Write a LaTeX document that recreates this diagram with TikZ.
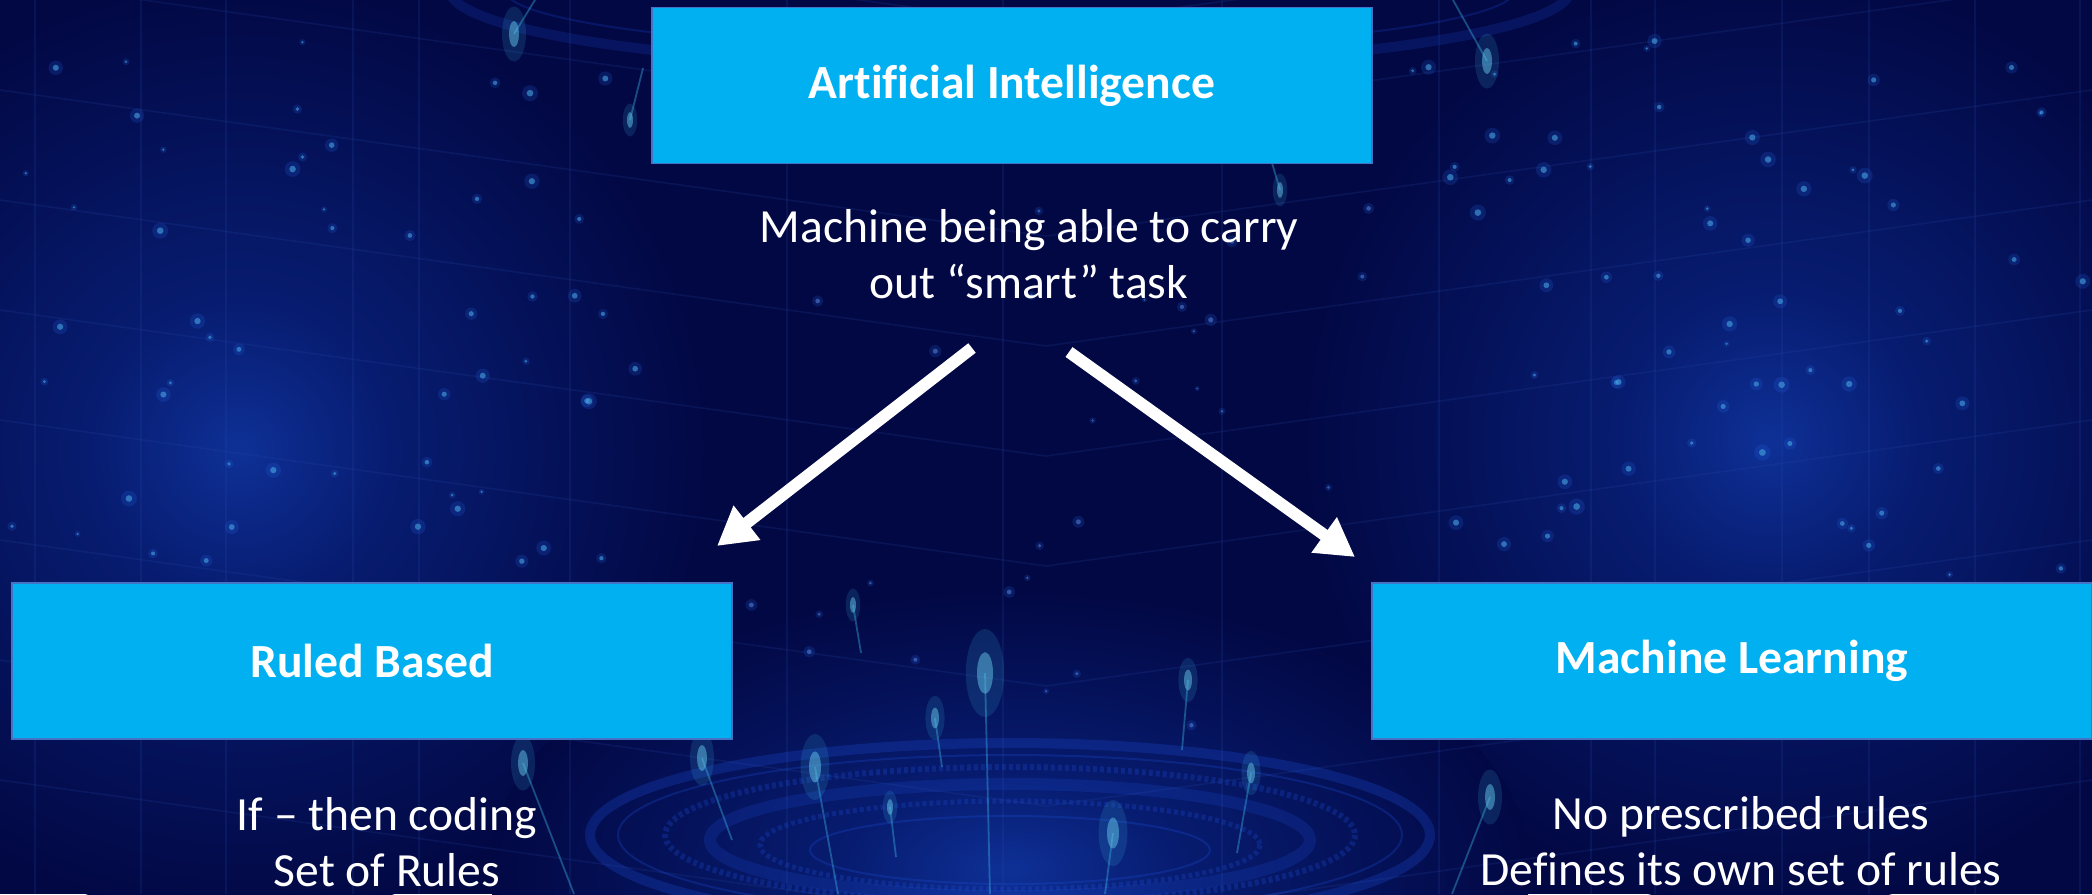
\documentclass[tikz,border=0pt]{standalone}
\usepackage{fontspec}
\setmainfont{Carlito}[Ligatures={TeX,NoCommon}]
\usetikzlibrary{arrows.meta}

% palette
\definecolor{bgnavy}{RGB}{2,8,68}
\definecolor{glowblue}{RGB}{14,48,150}
\definecolor{glowmid}{RGB}{7,28,112}
\definecolor{gridblue}{RGB}{40,75,170}
\definecolor{starblue}{RGB}{40,110,235}
\definecolor{starcore}{RGB}{70,165,225}
\definecolor{ringblue}{RGB}{30,80,220}
\definecolor{raycyan}{RGB}{60,180,225}
\definecolor{boxcyan}{RGB}{0,176,240}
\definecolor{boxedge}{RGB}{68,114,196}

% soft glow that has faded into the backdrop at the shape's edge
\pgfdeclareradialshading{haze}{\pgfpoint{0bp}{0bp}}{%
  color(0bp)=(glowblue); color(8bp)=(glowmid); color(25bp)=(bgnavy); color(50bp)=(bgnavy)}

% a thin ray of light with a glowing drop at its head
\newcommand\lightray[5]{%
  \draw[raycyan, opacity=0.4, line width=0.9pt] (#1,#2) -- (#3,#4);
  \fill[raycyan, opacity=0.16] (#1,#2) ellipse[x radius=2.4*#5, y radius=5.5*#5];
  \fill[raycyan!80!white, opacity=0.5] (#1,#2) ellipse[x radius=#5, y radius=2.6*#5];
}

\tikzset{
  box/.style={rectangle, fill=boxcyan, draw=boxedge, line width=0.6pt,
    minimum width=360pt, minimum height=78pt, inner sep=0pt,
    text=white, font=\bfseries\fontsize{23.8}{28}\selectfont},
  note/.style={text=white, align=center, inner sep=0pt,
    font=\fontsize{23.8}{28}\selectfont},
  flow/.style={draw=white, line width=6pt,
    -{Triangle[length=19pt,width=20.5pt]}},
  gridline/.style={gridblue, opacity=0.18, line width=0.8pt},
  ring/.style={ringblue, opacity=0.26},
}

\begin{document}
\begin{tikzpicture}[x=0.5pt, y=-0.5pt]
\useasboundingbox (0,0) rectangle (2092,894);

% ---------- backdrop ----------
\fill[bgnavy] (0,0) rectangle (2092,894);
\shade[shading=haze] (240,450) circle[radius=470];
\shade[shading=haze] (1770,440) circle[radius=470];
\shade[shading=haze] (1010,870) ellipse[x radius=520, y radius=280];

% faint perspective grid
\foreach \gx in {35,141,226,353,419,570,787,1003,1222,1439,1591,1655,1782,1869,1975,2080}
  \draw[gridline] (\gx,0) -- (\gx,894);
\foreach \gy in {-120,-20,90,200,310,420,540,660,780}
  \draw[gridline] (0,\gy) -- (1046,\gy+146) -- (2092,\gy);

% stars
\pgfmathsetseed{4711}
\foreach \k in {1,...,55}{
  \pgfmathsetmacro{\sx}{10+rnd*640}
  \pgfmathsetmacro{\sy}{40+rnd*530}
  \pgfmathsetmacro{\sr}{1.2+2.2*rnd}
  \fill[starblue, opacity=0.18] (\sx,\sy) circle[radius=2.4*\sr];
  \fill[starcore, opacity=0.6] (\sx,\sy) circle[radius=\sr];
}
\foreach \k in {1,...,65}{
  \pgfmathsetmacro{\sx}{1390+rnd*695}
  \pgfmathsetmacro{\sy}{40+rnd*540}
  \pgfmathsetmacro{\sr}{1.2+2.2*rnd}
  \fill[starblue, opacity=0.18] (\sx,\sy) circle[radius=2.4*\sr];
  \fill[starcore, opacity=0.6] (\sx,\sy) circle[radius=\sr];
}
\foreach \k in {1,...,30}{
  \pgfmathsetmacro{\sx}{660+rnd*720}
  \pgfmathsetmacro{\sy}{170+rnd*560}
  \pgfmathsetmacro{\sr}{1.0+1.6*rnd}
  \fill[starblue, opacity=0.18] (\sx,\sy) circle[radius=2.4*\sr];
  \fill[starblue!70!white, opacity=0.45] (\sx,\sy) circle[radius=\sr];
}

% rings at the foot of the page
\draw[ring, line width=5pt] (1010,835) ellipse[x radius=420, y radius=92];
\draw[ring, line width=1pt] (1010,835) ellipse[x radius=392, y radius=80];
\draw[ring, line width=3pt, dash pattern=on 2pt off 1.5pt] (1010,835) ellipse[x radius=345, y radius=68];
\draw[ring, line width=6pt, opacity=0.2] (1010,840) ellipse[x radius=300, y radius=56];
\draw[ring, line width=2.5pt, dash pattern=on 2pt off 1.5pt] (1010,845) ellipse[x radius=250, y radius=44];
\draw[ring, line width=1pt] (1010,850) ellipse[x radius=200, y radius=34];

% rings behind the top box
\draw[ring, line width=5pt, opacity=0.18] (1010,-10) ellipse[x radius=560, y radius=78];
\draw[ring, line width=1pt, opacity=0.22] (1010,-10) ellipse[x radius=505, y radius=60];

% rays of light
\lightray{985}{673}{990}{894}{8}
\lightray{1188}{680}{1182}{750}{4}
\lightray{935}{718}{942}{767}{4}
\lightray{853}{605}{861}{653}{3}
\lightray{815}{767}{838}{894}{6}
\lightray{702}{758}{732}{840}{5}
\lightray{890}{807}{896}{857}{3}
\lightray{1113}{833}{1105}{894}{6}
\lightray{1251}{773}{1237}{853}{4}
\lightray{1490}{797}{1452}{894}{5}
\lightray{523}{763}{574}{894}{5}
\lightray{514}{34}{535}{0}{5}
\lightray{630}{120}{643}{68}{3}
\lightray{1487}{61}{1453}{0}{5}
\lightray{1280}{190}{1272}{163}{3}

% ---------- diagram ----------
\node[box] (ai) at (1012,85.5) {Artificial Intelligence};
\node[box] (rb) at (372,661) {Ruled Based};
\node[box] (ml) at (1732,661) {Machine Learning};

\node[note, anchor=base] (aidesc) at (1029,298)
  {Machine being able to carry\\out “smart” task};
\node[note, anchor=base] (rbdesc) at (387,886)
  {If – then coding\\Set of Rules};
\node[note, anchor=base] (mldesc) at (1741,885)
  {No prescribed rules\\Defines its own set of rules};

\coordinate (lstart) at (972,348);
\coordinate (lend)   at (717,546);
\coordinate (rstart) at (1069,352);
\coordinate (rend)   at (1355,557);
\draw[flow] (lstart) -- (lend);
\draw[flow] (rstart) -- (rend);
\end{tikzpicture}
\end{document}
